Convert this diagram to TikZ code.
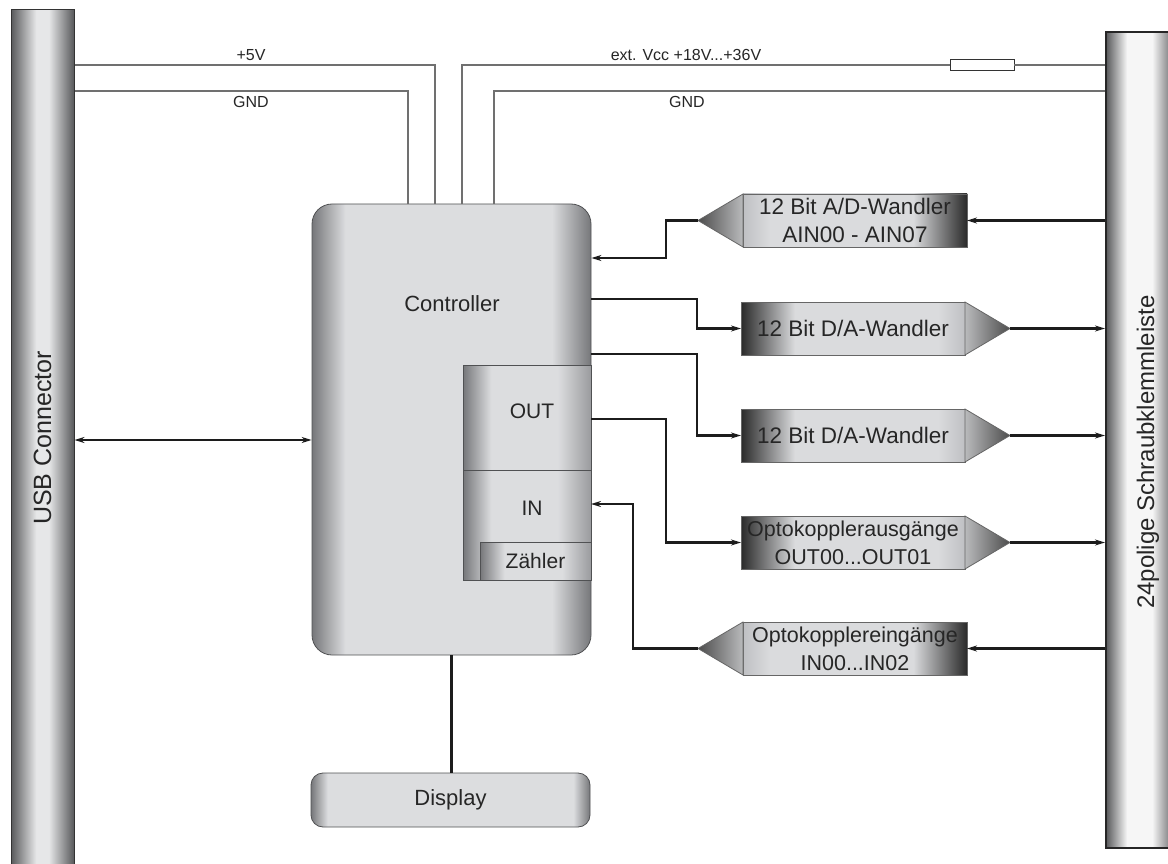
\documentclass[tikz,border=0pt]{standalone}
\usepackage{fontspec}
\setmainfont{Liberation Sans}
\usetikzlibrary{arrows.meta,positioning}

\definecolor{wire}{HTML}{1C1C1C}
\definecolor{pwr}{HTML}{707070}
\definecolor{rim}{HTML}{505153}
\definecolor{edgegray}{HTML}{76777A}
\definecolor{iogray}{HTML}{9A9B9E}
\definecolor{bodygray}{HTML}{DCDDDF}
\definecolor{cvdark}{HTML}{2A2A2A}
\definecolor{cvlight}{HTML}{DADBDD}
\definecolor{cvend}{HTML}{BFC0C3}
\definecolor{bardark}{HTML}{58595B}
\definecolor{barlight}{HTML}{E6E7E8}
\definecolor{barwhite}{HTML}{F6F6F6}

\pgfdeclarehorizontalshading{ctrlshade}{100bp}{color(0bp)=(edgegray); color(25bp)=(edgegray); color(31bp)=(bodygray); color(68bp)=(bodygray); color(75bp)=(edgegray); color(100bp)=(edgegray)}
\pgfdeclarehorizontalshading{ioshade}{100bp}{color(0bp)=(edgegray); color(25bp)=(edgegray); color(36bp)=(bodygray); color(62bp)=(bodygray); color(75bp)=(iogray); color(100bp)=(iogray)}
\pgfdeclarehorizontalshading{cvshade}{100bp}{color(0bp)=(cvdark); color(25bp)=(cvdark); color(37bp)=(cvlight); color(69bp)=(cvlight); color(75bp)=(cvend); color(100bp)=(cvend)}
\pgfdeclarehorizontalshading{dispshade}{100bp}{color(0bp)=(edgegray); color(25bp)=(edgegray); color(28bp)=(bodygray); color(72bp)=(bodygray); color(75bp)=(edgegray); color(100bp)=(edgegray)}
\pgfdeclarehorizontalshading{usbshade}{100bp}{color(0bp)=(bardark); color(25bp)=(bardark); color(45bp)=(barlight); color(55bp)=(barlight); color(75bp)=(bardark); color(100bp)=(bardark)}
\pgfdeclarehorizontalshading{termshade}{100bp}{color(0bp)=(bardark); color(25bp)=(bardark); color(40bp)=(barwhite); color(58bp)=(barwhite); color(75bp)=(bardark); color(100bp)=(bardark)}

\begin{document}
\begin{tikzpicture}[x=1pt,y=-1pt,text=black!85,
  conn/.style={draw=wire,line width=2.1pt},
  arr/.style={-{Stealth[length=10pt,width=6pt]}},
  power/.style={draw=pwr,line width=1.1pt},
  small/.style={font=\fontsize{16}{18}\selectfont},
  big/.style={font=\fontsize{21}{25}\selectfont},
  ctrl node/.style={draw=rim,line width=0.8pt,shading=ctrlshade,rounded corners=20pt,
    minimum width=279pt,minimum height=451pt},
  io node/.style={draw=rim,line width=0.8pt,shading=ioshade,inner sep=0pt,outer sep=0pt},
  conv/.style={draw=black!60,line width=0.8pt,shading=cvshade,outer sep=0pt,inner sep=0pt,
    minimum width=224pt,minimum height=53pt,align=center,font=\fontsize{22.5}{28}\selectfont},
  conv in/.style={conv,shading angle=180},
  opto/.style={font=\fontsize{21.5}{28}\selectfont},
  tip out/.style={draw=black!60,line width=0.8pt,left color=cvlight!85!black,right color=black!70},
  tip in/.style={draw=black!60,line width=0.8pt,right color=cvlight!85!black,left color=black!70}]

  \useasboundingbox (0,0) rectangle (1168,864);

  % connectors left and right
  \node[draw=black!80,line width=1pt,shading=usbshade,
    minimum width=63pt,minimum height=856pt] (usb) at (42.5,438) {};
  \node[rotate=90,font=\fontsize{25}{28}\selectfont] (usblabel) at (usb) {USB Connector};

  \node[draw=black!85,line width=2pt,shading=termshade,
    minimum width=70pt,minimum height=816pt] (term) at (1141,440) {};
  \node[rotate=90,font=\fontsize{24}{28}\selectfont] (termlabel) at (1148,452) {24polige Schraubklemmleiste};

  % controller
  \node[ctrl node] (ctrl) at (451.5,429.5) {};
  \node[font=\fontsize{22}{26}\selectfont] (ctrllabel) at (452,304) {Controller};
  \node[io node,minimum width=128pt,minimum height=105pt] (out) at (527,417.5) {};
  \node[io node,minimum width=128pt,minimum height=110pt] (in) at (527,525) {};
  \node[big] (outlabel) at (532,411) {OUT};
  \node[big] (inlabel) at (532,508) {IN};
  \node[io node,big,minimum width=111pt,minimum height=38pt] (cnt) at (535.5,561) {Zähler};

  \node[draw=rim,line width=0.8pt,shading=dispshade,rounded corners=12pt,minimum width=279pt,
    minimum height=54pt,font=\fontsize{22}{26}\selectfont] (disp) at (450.5,800) {Display};

  % converters
  \node[conv] (da1) at (853,328.5) {12 Bit D/A-Wandler};
  \node[conv in] (ad) [above=55pt of da1,xshift=2pt] {12 Bit A/D-Wandler\\AIN00 - AIN07};
  \node[conv] (da2) [below=54pt of da1] {12 Bit D/A-Wandler};
  \node[conv,opto] (oout) [below=54pt of da2] {Optokopplerausgänge\\OUT00...OUT01};
  \node[conv in,opto] (oin) [below=53pt of oout,xshift=2pt] {Optokopplereingänge\\IN00...IN02};

  \coordinate (adtip) at ([xshift=-45pt]ad.west);
  \coordinate (da1tip) at ([xshift=45pt]da1.east);
  \coordinate (da2tip) at ([xshift=45pt]da2.east);
  \coordinate (oouttip) at ([xshift=45pt]oout.east);
  \coordinate (ointip) at ([xshift=-45pt]oin.west);

  \path[tip in] (ad.north west) -- (adtip) -- (ad.south west) -- cycle;
  \path[tip out] (da1.north east) -- (da1tip) -- (da1.south east) -- cycle;
  \path[tip out] (da2.north east) -- (da2tip) -- (da2.south east) -- cycle;
  \path[tip out] (oout.north east) -- (oouttip) -- (oout.south east) -- cycle;
  \path[tip in] (oin.north west) -- (ointip) -- (oin.south west) -- cycle;

  % supply
  \node[draw=black!80,line width=0.8pt,minimum width=64pt,minimum height=11pt,
    inner sep=0pt,outer sep=0pt] (fuse) at (982,65) {};
  \draw[power] (usb.east |- 0,65) -| (ctrl.north -| 435,0);
  \draw[power] (usb.east |- 0,91) -| (ctrl.north -| 408,0);
  \draw[power] (ctrl.north -| 462,0) |- (fuse.west);
  \draw[power] (fuse.east) -- (term.west |- fuse.east);
  \draw[power] (ctrl.north -| 494,0) |- (term.west |- 0,91);
  \node[small] (v5) at (251,55) {+5V};
  \node[small] (gnd1) at (251,102) {GND};
  \node[small] (vcc) at (686,55) {ext. Vcc +18V...+36V};
  \node[small] (gnd2) at (687,102) {GND};

  % signals
  \draw[conn,{Stealth[length=10pt,width=6pt]}-{Stealth[length=10pt,width=6pt]}]
    (usb.east |- 0,440) -- (ctrl.west |- 0,440);
  \draw[conn] (ctrl.south) -- (ctrl.south |- disp.north);
  \draw[conn,arr] (term.west |- adtip) -- (ad.east);
  \draw[conn,arr] (adtip) -- ++(-32,0) |- (ctrl.east |- 0,258);
  \draw[conn,arr] (ctrl.east |- 0,299) -| ([xshift=-44pt]da1.west) -- (da1.west);
  \draw[conn,arr] (da1tip) -- (term.west |- da1tip);
  \draw[conn,arr] (ctrl.east |- 0,354) -| ([xshift=-44pt]da2.west) -- (da2.west);
  \draw[conn,arr] (da2tip) -- (term.west |- da2tip);
  \draw[conn,arr] (out.east |- 0,419) -| ([xshift=-75pt]oout.west) -- (oout.west);
  \draw[conn,arr] (oouttip) -- (term.west |- oouttip);
  \draw[conn,arr] (term.west |- ointip) -- (oin.east);
  \draw[conn,arr] (ointip) -- ++(-65,0) |- (in.east |- 0,504);
\end{tikzpicture}
\end{document}
